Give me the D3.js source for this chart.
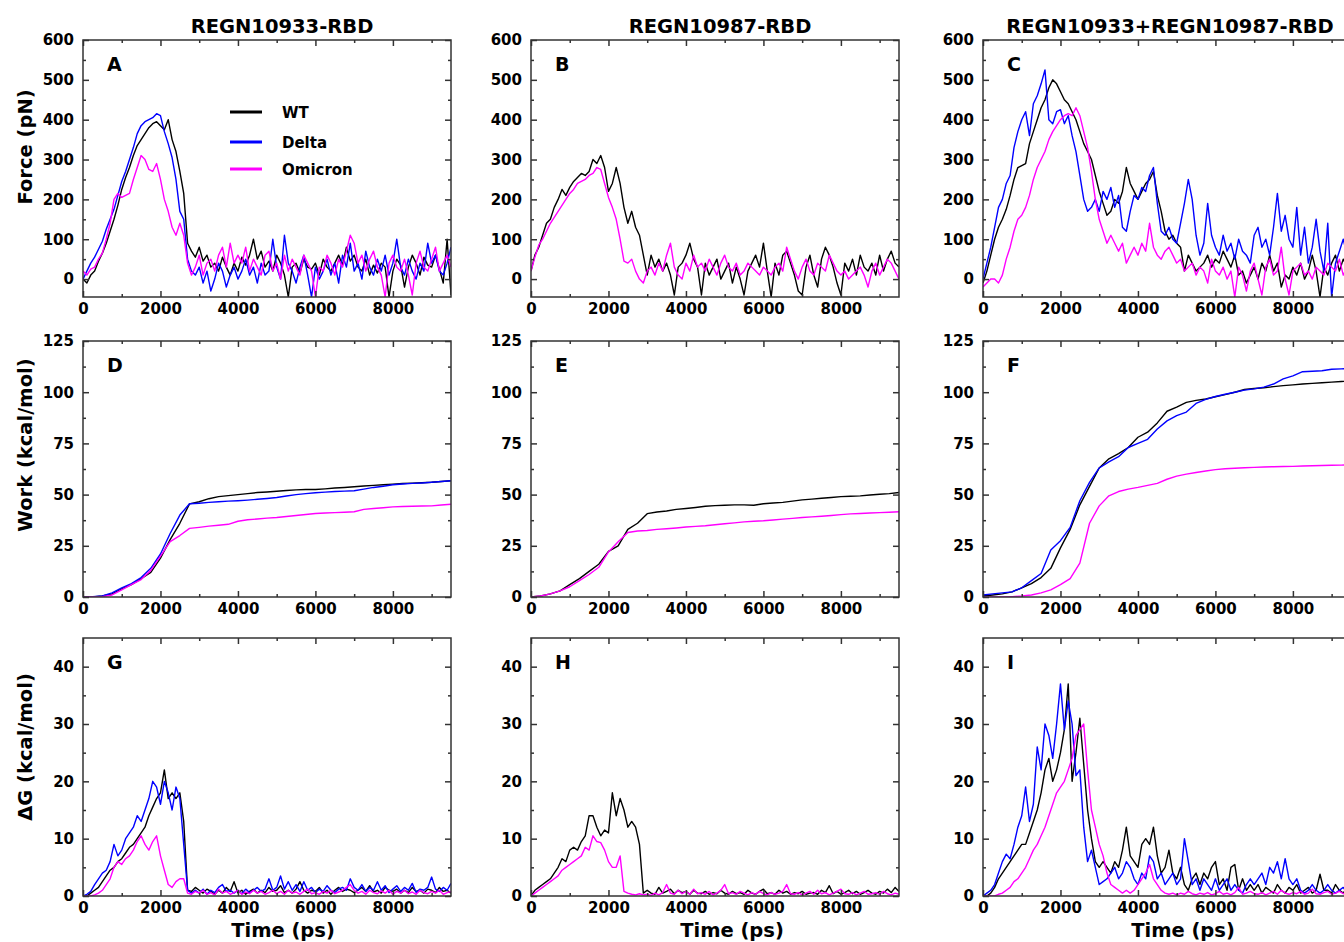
<!DOCTYPE html>
<html>
<head>
<meta charset="utf-8">
<script src="https://cdn.jsdelivr.net/npm/d3@7/dist/d3.min.js"></script>
<style>
  body { margin: 0; background: #fff; }
  svg { display: block; font-family: "DejaVu Sans", sans-serif; font-weight: bold; }
</style>
</head>
<body>
<div id="chart"></div>
<script>
// ---------- data ----------
// sampling grids (ps)
const timeFine = d3.range(0, 9501, 100);
const timeCoarse = d3.range(0, 9501, 250);

const seriesNames = ['WT', 'Delta', 'Omicron'];
const seriesColors = ['#000000', '#0000ff', '#ff00ff'];
const columnTitles = ['REGN10933-RBD', 'REGN10987-RBD', 'REGN10933+REGN10987-RBD'];
const rowLabels = ['Force (pN)', 'Work (kcal/mol)', '\u0394G (kcal/mol)'];
const panelLetters = [['A', 'B', 'C'], ['D', 'E', 'F'], ['G', 'H', 'I']];
const xAxisLabel = 'Time (ps)';

const timeTicks = [0, 2000, 4000, 6000, 8000];
const timeMinorTicks = [1000, 3000, 5000, 7000, 9000];
const forceTicks = [0, 100, 200, 300, 400, 500, 600];
const forceMinorTicks = [50, 150, 250, 350, 450, 550];
const workTicks = [0, 25, 50, 75, 100, 125];
const workMinorTicks = [12.5, 37.5, 62.5, 87.5, 112.5];
const dgTicks = [0, 10, 20, 30, 40];
const dgMinorTicks = [5, 15, 25, 35];

// force (pN), one value per 100 ps
const forceA_WT = [
  0, -10, 10, 20, 45, 65, 90, 120, 150, 185,
  225, 255, 280, 310, 335, 350, 365, 380, 390, 395,
  385, 375, 400, 350, 320, 270, 215, 90, 70, 55,
  80, 45, 60, 30, 40, 20, 55, 30, 10, 40,
  20, 55, 35, 60, 100, 50, 70, 30, 45, 20,
  60, 40, 10, -45, 30, 40, 15, 50, 30, 25,
  40, 10, 50, 30, 20, 40, 60, 35, 80, 45,
  60, 30, 20, 50, 10, 35, 15, 40, 30, -45,
  20, 50, 35, -20, 30, 60, 40, 10, 55, 35,
  30, 60, 25, -10, 100, -40];
const forceA_Delta = [
  0, 20, 40, 55, 75, 95, 125, 150, 175, 210,
  245, 270, 300, 330, 365, 385, 395, 400, 405, 415,
  410, 370, 340, 305, 250, 170, 150, 50, 20, 10,
  30, -10, 20, -30, 0, 40, 20, -20, 10, 30,
  0, 20, 50, 10, 30, -10, 40, 10, 20, 100,
  30, 0, 110, 40, 20, -10, 30, 60, 10, -45,
  30, 0, 20, 50, 10, 40, -10, 60, 30, 90,
  20, 40, 0, 70, 30, 10, 50, 20, 60, 10,
  40, 100, 30, 10, 50, 20, 0, 40, 20, 90,
  40, 60, 20, 10, 40, 80];
const forceA_Omicron = [
  20, 10, 25, 30, 50, 65, 100, 140, 200, 215,
  205, 210, 215, 250, 280, 310, 300, 275, 270, 290,
  250, 200, 170, 130, 110, 140, 110, 40, 10, 30,
  60, 10, 40, 50, 20, 60, 80, 30, 90, 40,
  60, 40, 80, 20, 50, 30, 10, 60, 70, 20,
  40, 0, 60, 20, 50, 30, 10, 60, 40, 20,
  -45, 30, 20, 60, 40, 10, 50, 30, 70, 110,
  90, 40, 60, 20, 50, 70, 30, 10, -45, 40,
  60, 30, 20, 50, 10, -40, 40, 70, 30, 20,
  50, 80, 20, 40, 60, 30];
const forceB_WT = [
  20, 60, 80, 110, 140, 150, 180, 200, 225, 210,
  230, 245, 255, 265, 260, 270, 300, 290, 310, 280,
  220, 240, 280, 240, 180, 140, 170, 130, 110, 60,
  10, 60, 30, 50, 20, 40, 10, -40, 30, 40,
  60, 90, 50, 30, -40, 40, 10, 30, 50, 0,
  20, 40, -10, 30, 0, -40, 20, 40, 60, 30,
  90, 20, -45, 40, 10, 60, 70, 40, 10, -30,
  -40, 30, 60, 10, -20, 50, 80, 60, 30, -10,
  -40, 40, 20, 50, 10, 60, 30, 20, 40, 10,
  60, 20, 50, 70, 40, 30];
const forceB_Omicron = [
  20, 55, 85, 100, 120, 140, 155, 170, 185, 200,
  215, 225, 240, 245, 250, 260, 265, 280, 275, 240,
  205, 180, 150, 100, 45, 40, 50, 20, 0, -10,
  20, 30, 10, 40, 20, 60, 90, 30, 10, 0,
  40, 20, 60, 30, 40, 20, 50, 30, 10, 40,
  60, 30, 20, 40, 10, 20, 40, 30, 20, 10,
  30, 20, 10, 30, 40, 20, 80, 50, 20, 0,
  30, 50, 20, 10, 40, 30, 20, 60, 40, 20,
  10, 20, 0, 10, 20, 30, 10, -20, 20, 40,
  10, 30, 50, 40, 20, 0];
const forceC_WT = [
  -10, 20, 60, 100, 130, 150, 175, 210, 250, 280,
  285, 290, 340, 370, 400, 430, 450, 480, 500, 490,
  470, 450, 440, 420, 400, 370, 340, 320, 300, 260,
  220, 190, 160, 170, 200, 190, 220, 280, 240, 220,
  200, 220, 240, 250, 270, 210, 170, 120, 100, 110,
  90, 80, 20, 60, 40, 20, 30, 40, 60, 30,
  50, 40, 70, 50, 30, 60, 10, 20, -10, 10,
  30, 0, 40, 20, 60, 20, 40, -20, 10, 0,
  30, 10, 40, 0, 20, 60, 20, -45, 30, 10,
  40, 60, 20, 50, 30, 40];
const forceC_Delta = [
  0, 40, 80, 130, 180, 200, 240, 260, 330, 370,
  400, 420, 360, 440, 460, 490, 525, 400, 390, 420,
  425, 390, 410, 360, 320, 260, 200, 170, 180, 200,
  170, 220, 200, 230, 180, 210, 130, 120, 170, 210,
  200, 230, 220, 260, 280, 190, 120, 110, 130, 100,
  90, 140, 190, 250, 200, 110, 60, 90, 190, 110,
  80, 60, 110, 70, 90, 50, 100, 70, 60, 40,
  110, 130, 80, 100, 60, 130, 215, 120, 160, 100,
  80, 180, 60, 130, 40, 80, 150, 70, 20, 140,
  -45, 40, 70, 100, 60, 40];
const forceC_Omicron = [
  -20, -10, 0, 0, -10, 10, 50, 80, 120, 150,
  160, 180, 210, 250, 280, 300, 320, 350, 370, 385,
  400, 410, 415, 410, 430, 410, 370, 330, 270, 200,
  150, 120, 90, 110, 90, 70, 90, 40, 60, 80,
  60, 90, 70, 140, 80, 60, 50, 70, 80, 60,
  40, 50, 20, 30, 40, 10, 30, 20, -10, 50,
  20, 10, 30, 0, 20, -45, 30, 10, -30, 20,
  40, 0, -40, 30, 50, 10, 20, 80, 0, -40,
  20, 30, 40, 10, 20, 0, 30, 20, 10, 40,
  30, 20, 50, 10, 30, 20];

// work (kcal/mol), one value per 250 ps
const workD_WT = [0, 0, 0.5, 1.5, 4, 6, 9, 12, 19, 28, 36, 45.5, 46.5, 48, 49, 49.5, 50, 50.5, 51, 51.3,
  51.6, 52, 52.3, 52.5, 52.5, 52.8, 53.2, 53.5, 53.8, 54.2, 54.5, 54.8, 55.1, 55.4, 55.6, 55.8, 56, 56.4, 56.8];
const workD_Delta = [0, 0.2, 0.5, 2, 4.5, 6.5, 9.5, 14, 21, 31, 40, 45.5, 45.8, 46.2, 46.5, 46.8, 47, 47.3, 47.7, 48.1,
  48.6, 49.3, 50, 50.5, 50.9, 51.2, 51.5, 51.7, 51.9, 52.7, 53.5, 54.1, 54.8, 55.2, 55.5, 55.7, 56, 56.4, 56.8];
const workD_Omicron = [0, 0, 0.2, 1, 3.5, 6, 8.5, 13, 20, 27, 30, 33.5, 34, 34.6, 35, 35.5, 37, 37.7, 38.1, 38.5,
  38.8, 39.3, 39.8, 40.3, 40.8, 41, 41.2, 41.4, 41.6, 42.8, 43.2, 43.6, 44, 44.2, 44.3, 44.4, 44.5, 44.9, 45.3];
const workE_WT = [0, 0.5, 1.5, 3, 6, 9, 12.5, 16, 22.3, 25, 33, 36, 40.7, 41.5, 42, 42.8, 43.2, 43.7, 44.3, 44.6,
  44.8, 45, 45, 44.8, 45.5, 45.9, 46.2, 46.8, 47.4, 47.8, 48.2, 48.6, 49, 49.2, 49.4, 49.8, 50.2, 50.5, 51];
const workE_Omicron = [0, 0.5, 1.5, 3, 5, 8, 11, 14.5, 22, 27, 31.5, 32.2, 32.5, 33, 33.3, 33.7, 34.2, 34.5, 34.8, 35.3,
  35.8, 36.2, 36.7, 37, 37.2, 37.6, 38, 38.4, 38.8, 39.1, 39.4, 39.8, 40.2, 40.6, 40.8, 41, 41.2, 41.4, 41.6];
const workF_WT = [0.5, 1, 1.5, 2.5, 4.5, 6.5, 9.5, 14, 24, 33, 45, 54, 63, 67.5, 70, 73, 78, 80.5, 85, 90.7,
  92.7, 95, 96, 96.7, 97.8, 98.8, 100, 101.3, 101.8, 102.2, 102.7, 103.2, 103.6, 104, 104.3, 104.6, 104.9, 105.2, 105.5];
const workF_Delta = [1, 1.5, 2, 2.5, 4.5, 8, 11.5, 23, 27.5, 34, 47, 56, 63, 66, 68.5, 73, 75, 77, 82, 86,
  88.6, 90.3, 94.5, 96.5, 97.9, 99, 100, 101, 101.6, 102.5, 104, 106.5, 108, 110, 110.2, 110.5, 111.2, 111.4, 111.5];
const workF_Omicron = [0, 0, 0, 0.2, 0.5, 1, 2, 3.5, 6, 9, 16.5, 36, 44.5, 49.4, 51.5, 52.7, 53.5, 54.5, 55.5, 57.5,
  59, 60, 60.8, 61.5, 62.2, 62.6, 62.9, 63.1, 63.3, 63.5, 63.6, 63.7, 63.8, 64, 64.1, 64.2, 64.3, 64.4, 64.5];

// free energy (kcal/mol), one value per 100 ps
const dgG_WT = [
  0, 0, 0.5, 1, 1.5, 2.5, 3.5, 4.5, 5, 6,
  6.5, 7.5, 8.5, 9, 10, 11, 12, 14, 15.5, 17,
  18, 22, 17, 18, 17, 18, 13, 1, 0.8, 1.5,
  1, 0.5, 1.2, 0.8, 0.3, 1, 0.5, 1.5, 0.8, 2.5,
  0.5, 1, 0.3, 0.8, 1.2, 0.5, 1, 0.6, 1.5, 0.8,
  1, 1.8, 0.6, 1, 0.5, 1.2, 2.5, 1, 0.5, 1,
  0.8, 1.5, 0.5, 1, 0.3, 1, 1.5, 0.8, 1.2, 1,
  0.6, 1, 1.5, 0.8, 1.8, 0.7, 1, 0.5, 1.5, 1,
  0.8, 1.2, 0.5, 1, 0.6, 1.5, 0.8, 1, 0.5, 1.2,
  1, 0.6, 1.5, 0.8, 1, 0.5];
const dgG_Delta = [
  0, 0.3, 0.8, 2, 3, 4, 4.5, 6, 9, 7,
  8, 10, 11, 12, 14, 13, 15, 17, 20, 19,
  16, 20, 18, 15, 19, 17, 9, 1, 0.5, 1,
  0.5, 1.2, 0.3, 1, 0.6, 1.5, 2, 0.8, 1, 0.5,
  1, 0.4, 1.2, 0.6, 1, 1.5, 0.8, 1.2, 3, 1,
  1.5, 3.5, 1.2, 2.5, 1, 2, 0.8, 2.5, 1, 1.5,
  0.6, 1.2, 0.8, 1.8, 1, 0.6, 1.2, 1.5, 1, 3,
  1.5, 1, 2, 0.8, 1.5, 1, 2.5, 1, 1.8, 0.6,
  1.2, 1.8, 0.8, 1.5, 1, 2.2, 0.6, 1.2, 1, 1.5,
  3.3, 1.2, 0.8, 1.5, 1, 2.2];
const dgG_Omicron = [
  0, 0, 0, 0.2, 0.5, 1, 2, 3, 5, 6,
  5.5, 6.5, 7, 8, 9.5, 10.5, 9, 8, 9.5, 10.5,
  7, 4.5, 2, 1.5, 2.5, 3, 3, 0.5, 0.3, 0.8,
  0.5, 1, 0.3, 0.6, 0.2, 1.2, 0.5, 0.8, 0.3, 0.6,
  1, 0.3, 0.7, 0.4, 1, 0.5, 0.8, 0.3, 0.6, 1,
  0.4, 0.8, 0.3, 1, 0.5, 0.7, 0.3, 0.8, 1.2, 0.4,
  0.6, 0.3, 0.8, 0.5, 1, 0.4, 0.7, 1, 1.5, 2,
  1, 0.5, 0.8, 0.3, 1, 0.6, 0.4, 0.9, 0.5, 1,
  0.3, 0.8, 0.5, 1, 0.4, 0.7, 0.3, 1, 0.6, 0.4,
  0.8, 0.5, 1, 0.3, 0.6, 0.8];
const dgH_WT = [
  0, 1, 1.5, 2, 2.5, 3, 4, 5, 6.5, 6,
  8, 8.5, 8, 9.5, 10.5, 14, 14, 12, 10.5, 11.5,
  11, 18, 14, 17, 15, 12, 13, 12, 9, 0.5,
  1, 0.5, 0.3, 1.5, 0.5, 0.8, 1.2, 0.4, 1, 0.6,
  0.8, 0.3, 1, 0.5, 0.4, 0.8, 0.3, 0.6, 0.4, 1,
  0.5, 0.3, 0.8, 0.4, 0.6, 0.3, 1, 0.5, 0.3, 0.8,
  1.2, 0.4, 0.6, 0.3, 1, 0.5, 0.8, 0.3, 0.6, 0.4,
  0.8, 0.3, 0.5, 0.6, 0.3, 1, 0.6, 1.8, 0.4, 0.8,
  0.3, 0.6, 1, 0.4, 0.8, 0.3, 0.6, 1, 0.5, 0.3,
  0.8, 0.5, 1.2, 0.6, 1.5, 0.8];
const dgH_Omicron = [
  0, 0.5, 1, 1.5, 2, 2.5, 3, 3.5, 4.5, 5,
  5.5, 6, 6.5, 7, 8.5, 8, 10.5, 9.5, 9.3, 8,
  6, 5, 5, 7, 0.8, 0.5, 0.3, 0.2, 0.4, 0.2,
  0.3, 0.1, 0.5, 0.2, 0.6, 2, 0.5, 0.3, 1, 0.4,
  0.8, 0.3, 1.2, 0.4, 0.6, 0.3, 0.8, 0.2, 0.5, 1,
  2, 0.4, 0.6, 0.3, 0.8, 0.5, 0.2, 0.6, 0.3, 0.8,
  0.4, 0.2, 0.6, 0.3, 0.5, 0.8, 2, 0.4, 0.3, 0.6,
  0.2, 0.5, 0.8, 0.3, 1, 0.4, 0.6, 0.2, 0.5, 0.8,
  1.2, 0.4, 0.3, 0.6, 0.2, 0.5, 0.8, 0.3, 0.4, 0.6,
  0.3, 0.8, 0.4, 0.2, 0.5, 0.3];
const dgI_WT = [
  0, 0, 0.5, 1.5, 3, 4, 5, 6, 7, 8,
  9, 9, 11, 13, 15, 18, 22, 24, 20, 22,
  25, 29, 37, 20, 25, 31, 23, 15, 10, 6,
  5, 6, 5, 4, 6, 5, 8, 12, 7, 6,
  5, 9, 10, 9, 12, 7, 4, 5, 8, 4,
  3, 5, 2, 1, 3, 4, 2, 4, 3, 5,
  6, 2, 3, 1, 5, 5.5, 1, 3, 1, 2,
  1, 2, 0.5, 1.5, 1, 0.5, 2, 1, 0.5, 1.5,
  1, 2, 0.5, 1, 1.5, 0.5, 1, 3.8, 1, 1,
  0.5, 2, 1, 0.5, 1.5, 1];
const dgI_Delta = [
  0, 0.5, 1, 2, 4, 6, 7.3, 6.5, 9, 12,
  14, 19, 13, 16, 26, 22, 30, 28, 24, 30,
  37, 29, 34, 30, 21, 22, 12, 6, 8, 5,
  2, 2.5, 3, 4, 5, 3, 4, 6, 5, 3,
  2, 4, 3, 7, 6, 3, 4, 2, 3, 4,
  2, 3, 10, 6, 2, 3, 1, 3, 2, 1,
  3, 1, 2, 3, 1, 2, 1, 0.5, 2, 3,
  2, 3, 4, 2, 5, 4, 6, 3, 6.5, 3,
  2, 3, 1, 0.5, 1, 2, 1, 0.5, 1, 2,
  1, 0.5, 1, 1.5, 0.5, 1];
const dgI_Omicron = [
  0, 0, 0, 0, 0.3, 0.5, 1, 1.5, 2.5, 3,
  4, 5, 6.5, 8, 9, 10.5, 12, 14, 16, 18,
  19, 20, 22, 24, 28, 29, 30, 22, 15, 12,
  9, 7, 4, 2, 1.5, 1, 0.5, 1, 0.5, 1,
  2, 3, 4, 5.5, 3, 2, 1, 0.5, 0.3, 0.5,
  0.2, 0.5, 0.3, 0.8, 0.4, 0.2, 0.5, 0.3, 0.6, 0.2,
  0.4, 0.8, 0.3, 0.5, 0.2, 0.6, 1.5, 0.3, 0.5, 0.8,
  0.4, 0.3, 0.6, 0.2, 0.5, 0.8, 0.3, 1, 0.5, 0.3,
  0.6, 0.4, 0.8, 0.3, 0.5, 1.2, 0.4, 0.3, 0.6, 0.8,
  0.3, 0.5, 0.8, 0.4, 0.6, 0.3];

// ---------- layout ----------
const W = 1344, H = 942;
const colLeft = [83, 531, 983];
const panelWidth = 368;
const rowTop = [40, 341, 638];
const rowHeight = [257, 256, 258];
const titleX = [282, 720, 1170];
const timeLabelX = [283, 732, 1183];
const rowLabelY = [147, 445, 747];

const rows = [
  {domain: [-45, 600], ticks: forceTicks, minor: forceMinorTicks, time: timeFine,
   panels: [[forceA_WT, forceA_Delta, forceA_Omicron], [forceB_WT, null, forceB_Omicron], [forceC_WT, forceC_Delta, forceC_Omicron]]},
  {domain: [0, 125], ticks: workTicks, minor: workMinorTicks, time: timeCoarse,
   panels: [[workD_WT, workD_Delta, workD_Omicron], [workE_WT, null, workE_Omicron], [workF_WT, workF_Delta, workF_Omicron]]},
  {domain: [0, 45], ticks: dgTicks, minor: dgMinorTicks, time: timeFine,
   panels: [[dgG_WT, dgG_Delta, dgG_Omicron], [dgH_WT, null, dgH_Omicron], [dgI_WT, dgI_Delta, dgI_Omicron]]}
];

const svg = d3.select('#chart').append('svg')
  .attr('width', W)
  .attr('height', H);
svg.append('rect').attr('width', W).attr('height', H).attr('fill', '#fff');

const frameColor = '#333';
const plain = d3.format('d');

// inward ticks on all four sides
const drawAxes = (g, x, y, h, row) => {
  const strip = sel => sel.call(s => s.select('.domain').remove());
  const style = sel => {
    sel.selectAll('line').attr('stroke', frameColor).attr('stroke-width', 1.5);
    sel.selectAll('text').attr('font-size', '15px').attr('font-weight', 'bold')
      .attr('font-family', '"DejaVu Sans", sans-serif').attr('fill', '#000');
  };
  const axes = [
    [d3.axisBottom(x).tickValues(timeTicks).tickSize(-6).tickPadding(6).tickFormat(plain), `translate(0,${h})`],
    [d3.axisBottom(x).tickValues(timeMinorTicks).tickSize(-3).tickFormat(''), `translate(0,${h})`],
    [d3.axisTop(x).tickValues(timeTicks).tickSize(-6).tickFormat(''), null],
    [d3.axisTop(x).tickValues(timeMinorTicks).tickSize(-3).tickFormat(''), null],
    [d3.axisLeft(y).tickValues(row.ticks).tickSize(-6).tickPadding(9).tickFormat(plain), null],
    [d3.axisLeft(y).tickValues(row.minor).tickSize(-3).tickFormat(''), null],
    [d3.axisRight(y).tickValues(row.ticks).tickSize(-6).tickFormat(''), `translate(${panelWidth},0)`],
    [d3.axisRight(y).tickValues(row.minor).tickSize(-3).tickFormat(''), `translate(${panelWidth},0)`]
  ];
  axes.forEach(([axis, tr]) => {
    const a = g.append('g');
    if (tr) a.attr('transform', tr);
    a.call(axis).call(strip).call(style);
  });
};

rows.forEach((row, r) => {
  const h = rowHeight[r];
  const x = d3.scaleLinear().domain([0, 9500]).range([0, panelWidth]);
  const y = d3.scaleLinear().domain(row.domain).range([h, 0]);

  row.panels.forEach((series, c) => {
    const g = svg.append('g').attr('transform', `translate(${colLeft[c]},${rowTop[r]})`);
    const clipId = `clip-${r}-${c}`;
    g.append('clipPath').attr('id', clipId)
      .append('rect').attr('width', panelWidth).attr('height', h);

    // data lines: WT, Delta, Omicron
    const line = d3.line()
      .x((d, i) => x(row.time[i]))
      .y(d => y(d));
    series.forEach((vals, k) => {
      if (!vals) return;
      g.append('path')
        .attr('clip-path', `url(#${clipId})`)
        .attr('d', line(vals))
        .attr('fill', 'none')
        .attr('stroke', seriesColors[k])
        .attr('stroke-width', 1.4)
        .attr('stroke-linejoin', 'round');
    });

    drawAxes(g, x, y, h, row);

    // frame
    g.append('rect')
      .attr('width', panelWidth).attr('height', h)
      .attr('fill', 'none')
      .attr('stroke', frameColor)
      .attr('stroke-width', 1.5);

    // panel letter
    g.append('text')
      .attr('x', 24).attr('y', 31)
      .attr('font-size', '19px')
      .attr('fill', '#000')
      .text(panelLetters[r][c]);
  });

  // row label
  svg.append('text')
    .attr('transform', `translate(32,${rowLabelY[r]}) rotate(-90)`)
    .attr('text-anchor', 'middle')
    .attr('font-size', '19.5px')
    .attr('fill', '#000')
    .text(rowLabels[r]);
});

// column titles and time labels
columnTitles.forEach((t, c) => {
  svg.append('text')
    .attr('x', titleX[c]).attr('y', 32.5)
    .attr('text-anchor', 'middle')
    .attr('font-size', '19.5px')
    .attr('fill', '#000')
    .text(t);
  svg.append('text')
    .attr('x', timeLabelX[c]).attr('y', 937)
    .attr('text-anchor', 'middle')
    .attr('font-size', '19.5px')
    .attr('fill', '#000')
    .text(xAxisLabel);
});

// legend (panel A)
const legend = svg.append('g').attr('transform', 'translate(230,112)');
seriesNames.forEach((name, k) => {
  const gy = [0, 30, 57][k];
  legend.append('line')
    .attr('x1', 0).attr('x2', 32).attr('y1', gy).attr('y2', gy)
    .attr('stroke', seriesColors[k]).attr('stroke-width', 3);
  legend.append('text')
    .attr('x', 52).attr('y', gy + 5.5)
    .attr('font-size', '15px')
    .attr('fill', '#000')
    .text(name);
});
</script>
</body>
</html>
